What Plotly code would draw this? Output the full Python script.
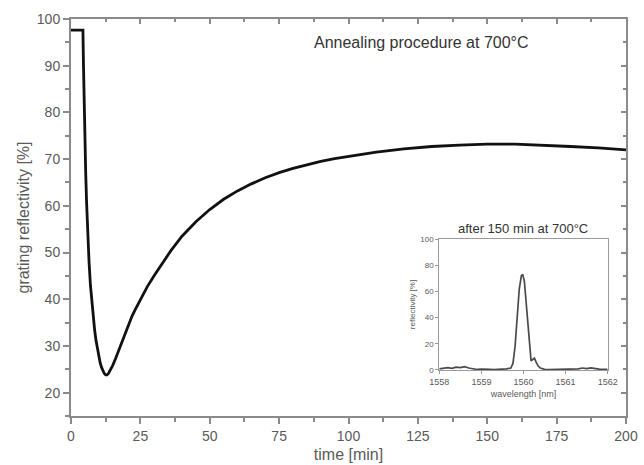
import plotly.graph_objects as go

# Main curve: annealing at 700°C
time_min = [0, 4.3, 4.5, 4.7, 5.0, 5.3, 5.6, 6.0, 6.5, 7.0, 7.5, 8.0, 8.5, 9.0, 9.5, 10.0,
            10.5, 11.0, 11.5, 12.0, 12.5, 13.0, 13.5, 14.0, 15.0, 16.0, 17.0, 18.0, 19.0, 20.0,
            21.0, 22.0, 23.0, 24.0, 25.0, 27.5, 30, 33, 36, 40, 45, 50, 55, 60, 65, 70, 75,
            80, 85, 90, 95, 100, 110, 120, 130, 140, 150, 160, 170, 180, 190, 200]
reflectivity = [97.6, 97.6, 90, 83, 74, 67, 61, 54.5, 48, 43, 39.3, 36.2, 33.5, 31.2, 29.3, 27.7,
                26.4, 25.4, 24.6, 24.1, 23.8, 23.8, 24.1, 24.6, 25.8, 27.2, 28.8, 30.4, 32.0, 33.5,
                35.0, 36.4, 37.6, 38.8, 40.0, 42.7, 45.1, 47.9, 50.4, 53.5, 56.6, 59.2, 61.4, 63.2, 64.7, 66.0, 67.1,
                68.0, 68.8, 69.5, 70.1, 70.6, 71.5, 72.2, 72.7, 73.0, 73.2, 73.2, 73.0, 72.7, 72.4, 72.0]

# Inset spectrum after 150 min at 700°C
wavelength_nm = [1558.00, 1558.10, 1558.20, 1558.30, 1558.40, 1558.50, 1558.60, 1558.70, 1558.80,
                 1558.90, 1559.00, 1559.10, 1559.20, 1559.30, 1559.40, 1559.50, 1559.60, 1559.70,
                 1559.75, 1559.80, 1559.85, 1559.90, 1559.95, 1559.98, 1560.02, 1560.06, 1560.10,
                 1560.14, 1560.18, 1560.22, 1560.26, 1560.30, 1560.35, 1560.40, 1560.45, 1560.50,
                 1560.60, 1560.70, 1560.80, 1560.90, 1561.00, 1561.10, 1561.20, 1561.30, 1561.40,
                 1561.50, 1561.60, 1561.70, 1561.80, 1561.90, 1562.00]
spectrum_pct = [0.8, 1.2, 1.8, 1.3, 2.2, 1.8, 2.6, 1.5, 0.7,
                0.4, 0.6, 0.3, 0.4, 0.3, 0.5, 0.4, 0.8, 1.5,
                5, 18, 40, 62, 72, 73, 68, 52, 34,
                16, 7, 8, 9, 6, 3, 1.5, 0.8, 0.5,
                0.3, 0.4, 0.3, 0.4, 0.5, 0.7, 1.2, 0.8, 1.5,
                1.0, 1.6, 1.0, 0.6, 0.4, 0.5]

x_ticks = [0, 25, 50, 75, 100, 125, 150, 175, 200]
y_ticks = [20, 30, 40, 50, 60, 70, 80, 90, 100]
inset_x_ticks = [1558, 1559, 1560, 1561, 1562]
inset_y_ticks = [0, 20, 40, 60, 80, 100]

AX = "#8a8a8a"
TXT = "#5a5a5a"
FONT = "Liberation Sans, Arial, sans-serif"

fig = go.Figure()
fig.add_trace(go.Scatter(x=time_min, y=reflectivity, mode="lines",
                         line=dict(color="#111111", width=2.8), xaxis="x", yaxis="y",
                         showlegend=False))
# same data on the mirrored (top/right) axes so that their inward ticks get drawn
fig.add_trace(go.Scatter(x=time_min, y=reflectivity, mode="lines", opacity=0,
                         line=dict(color="#111111", width=1), xaxis="x3", yaxis="y3",
                         showlegend=False, hoverinfo="skip"))
fig.add_trace(go.Scatter(x=wavelength_nm, y=spectrum_pct, mode="lines",
                         line=dict(color="#4a4a4a", width=1.7), xaxis="x2", yaxis="y2",
                         showlegend=False))

ins_x = [0.6636, 0.967]
ins_y = [0.1159, 0.4458]

fig.update_layout(
    width=644, height=465,
    margin=dict(l=71, r=18, t=19, b=49, autoexpand=False),
    paper_bgcolor="white", plot_bgcolor="white",
    font=dict(family=FONT, color=TXT),
    xaxis=dict(range=[0, 200], tickvals=x_ticks, ticks="outside", ticklen=6, tickwidth=1.5,
               tickcolor=AX, showline=True, linecolor=AX, linewidth=2, mirror=True,
               showgrid=False, zeroline=False, tickfont=dict(size=14, color=TXT), automargin=False,
               minor=dict(dtick=12.5, tick0=0, ticks="outside", ticklen=4, tickcolor=AX),
               title=dict(text="time [min]", font=dict(size=16, color=TXT), standoff=6)),
    yaxis=dict(range=[15, 100], tickvals=y_ticks, ticks="outside", ticklen=6, tickwidth=1.5,
               tickcolor=AX, showline=True, linecolor=AX, linewidth=2, mirror=True,
               showgrid=False, zeroline=False, tickfont=dict(size=14, color=TXT), automargin=False,
               minor=dict(dtick=5, tick0=0, ticks="outside", ticklen=4, tickcolor=AX),
               title=dict(text="grating reflectivity [%]", font=dict(size=16, color=TXT), standoff=3)),
    xaxis3=dict(range=[0, 200], overlaying="x", side="top", anchor="y3", tickvals=x_ticks,
                ticks="inside", ticklen=5, tickwidth=1.5, tickcolor=AX, showticklabels=False,
                showgrid=False, zeroline=False, showline=False, automargin=False,
                minor=dict(dtick=12.5, tick0=0, ticks="inside", ticklen=3, tickcolor=AX)),
    yaxis3=dict(range=[15, 100], overlaying="y", side="right", anchor="x3", tickvals=y_ticks,
                ticks="inside", ticklen=5, tickwidth=1.5, tickcolor=AX, showticklabels=False,
                showgrid=False, zeroline=False, showline=False, automargin=False,
                minor=dict(dtick=5, tick0=0, ticks="inside", ticklen=3, tickcolor=AX)),
    xaxis2=dict(domain=ins_x, anchor="y2", range=[1558, 1562], tickvals=inset_x_ticks,
                ticks="outside", ticklen=3, tickcolor="#999", showline=True, linecolor="#9a9a9a",
                linewidth=1, mirror=True, showgrid=False, zeroline=False, automargin=False,
                tickfont=dict(size=9, color=TXT),
                title=dict(text="wavelength [nm]", font=dict(size=9, color=TXT), standoff=4)),
    yaxis2=dict(domain=ins_y, anchor="x2", range=[0, 100], tickvals=inset_y_ticks,
                ticks="outside", ticklen=3, tickcolor="#999", showline=True, linecolor="#9a9a9a",
                linewidth=1, mirror=True, showgrid=False, zeroline=False, automargin=False,
                tickfont=dict(size=8, color=TXT),
                title=dict(text="reflectivity [%]", font=dict(size=8, color=TXT), standoff=3)),
    annotations=[
        dict(text="Annealing procedure at 700°C", x=0.632, y=0.94, xref="paper", yref="paper",
             showarrow=False, font=dict(size=16, color="#333333"), xanchor="center", yanchor="middle"),
        dict(text="after 150 min at 700°C", x=(ins_x[0] + ins_x[1]) / 2, y=ins_y[1] + 0.027,
             xref="paper", yref="paper", showarrow=False, font=dict(size=13, color="#333333"),
             xanchor="center", yanchor="middle"),
    ],
)

fig.write_html("out.html")
